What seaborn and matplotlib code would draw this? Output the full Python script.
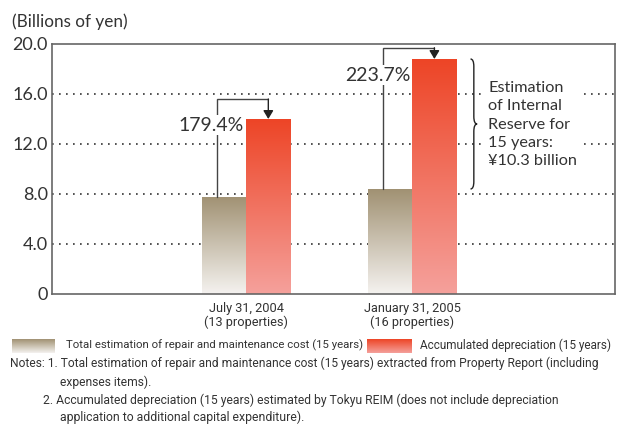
import numpy as np
import pandas as pd
import matplotlib
matplotlib.use("Agg")
import matplotlib.pyplot as plt
from matplotlib.path import Path
from matplotlib.patches import PathPatch
import seaborn as sns

# Dados do gráfico (bilhões de ienes)
datas = ["July 31, 2004\n(13 properties)", "January 31, 2005\n(16 properties)"]
series = ["Total estimation of repair and maintenance cost (15 years)",
          "Accumulated depreciation (15 years)"]
reparo = [7.8, 8.4]
depreciacao = [14.0, 18.8]
percentuais = ["179.4%", "223.7%"]
y_ticks = [0, 4, 8, 12, 16, 20]
y_labels = ["0", "4.0", "8.0", "12.0", "16.0", "20.0"]
nota_reserva = "Estimation\nof Internal\nReserve for\n15 years:\n¥10.3 billion"

df = pd.DataFrame({
    "data": datas * 2,
    "serie": [series[0]] * 2 + [series[1]] * 2,
    "valor": reparo + depreciacao,
})

sns.set_style("white")
plt.rcParams['font.family'] = ['Lato', 'DejaVu Sans']
NARROW = ['Roboto', 'DejaVu Sans']
TXT = "#333333"

fig = plt.figure(figsize=(6.17, 4.28), dpi=100)
W, H = 617, 428
ax = fig.add_axes([52 / W, 1 - 294 / H, (615 - 52) / W, 250 / H])

sns.barplot(data=df, x="data", y="valor", hue="serie", order=datas,
            hue_order=series, width=0.53, gap=0, ax=ax, legend=False,
            saturation=1, errorbar=None)

# Gradientes das barras
grad_tan = [(0.96, 0.95, 0.94), (0.63, 0.57, 0.45)]
grad_red = [(0.96, 0.63, 0.61), (0.93, 0.27, 0.15)]


def gradiente(cores, n=256):
    c0, c1 = np.array(cores[0]), np.array(cores[1])
    t = np.linspace(0, 1, n)[:, None]
    return (c0 + (c1 - c0) * t)[:, None, :]


for cont, cores in zip(ax.containers, [grad_tan, grad_red]):
    for bar in cont:
        x, y0 = bar.get_x(), bar.get_y()
        w, h = bar.get_width(), bar.get_height()
        im = ax.imshow(gradiente(cores), extent=[x, x + w, y0, y0 + h],
                       origin="lower", aspect="auto", zorder=2)
        im.set_clip_path(bar)
        bar.set_facecolor("none")
        bar.set_edgecolor("none")

ax.set_xlim(-1.17, 2.22)
ax.set_ylim(0, 20)

# Grade pontilhada
for v in y_ticks[1:-1]:
    ax.axhline(v, color="#333333", lw=1.2, ls=(0, (1, 3.2)), zorder=1)

ax.set_yticks(y_ticks)
ax.set_yticklabels(y_labels, fontsize=13, color=TXT)
ax.set_xticks(range(len(datas)))
ax.set_xticklabels(datas, fontsize=9.2, color=TXT, family=NARROW, linespacing=1.0)
ax.tick_params(axis="y", length=0, pad=3)
ax.tick_params(axis="x", length=0, pad=6)
ax.set_xlabel("")
ax.set_ylabel("")
for s in ax.spines.values():
    s.set_color("#666666")
    s.set_linewidth(1.2)

# Setas de percentual
meia = 0.265
topo_linha = [15.6, 19.7]
y_texto = [13.5, 17.5]
for i in range(len(datas)):
    xl = i - 0.175
    xr = i + meia / 2
    ax.plot([xl, xl, xr], [reparo[i], topo_linha[i], topo_linha[i]],
            color="#444444", lw=1.0, zorder=3, solid_joinstyle="miter")
    ax.annotate("", xy=(xr, depreciacao[i]), xytext=(xr, topo_linha[i]),
                arrowprops=dict(arrowstyle="-|>,head_length=0.5,head_width=0.3",
                                color="#222222", lw=1.0, shrinkA=0, shrinkB=0),
                zorder=3)
    ax.text(i - 0.21, y_texto[i], percentuais[i], ha="center", va="center",
            fontsize=14, color=TXT, zorder=4,
            bbox=dict(facecolor="white", edgecolor="none", pad=1))

# Chave indicando a reserva interna
xb = 1 + meia + 0.085
wb = 0.04
y0, y1 = reparo[1], depreciacao[1]
ym = (y0 + y1) / 2
r = 0.6
verts = [(xb, y1), (xb + wb / 2, y1), (xb + wb / 2, y1 - r),
         (xb + wb / 2, ym + r),
         (xb + wb / 2, ym), (xb + wb, ym),
         (xb + wb / 2, ym), (xb + wb / 2, ym - r),
         (xb + wb / 2, y0 + r),
         (xb + wb / 2, y0), (xb, y0)]
codes = [Path.MOVETO, Path.CURVE3, Path.CURVE3, Path.LINETO,
         Path.CURVE3, Path.CURVE3, Path.CURVE3, Path.CURVE3,
         Path.LINETO, Path.CURVE3, Path.CURVE3]
ax.add_patch(PathPatch(Path(verts, codes), fill=False, ec="#222222", lw=1.0, zorder=3))
ax.text(1.458, 13.55, nota_reserva, ha="left", va="center", fontsize=11.7,
        color=TXT, linespacing=1.38, zorder=4,
        bbox=dict(facecolor="white", edgecolor="none", pad=2))

# Unidade
unidade = fig.text(12 / W, 1 - 22 / H, "(Billions of yen)", fontsize=11.5,
                   color=TXT, va="center", ha="left")

# Legenda com gradiente
ajustar = [(unidade, 115)]
for (x0, x1), cores, texto, xt, larg in [((12, 55), grad_tan, series[0], 66, 297),
                                          ((367, 412), grad_red, series[1], 420, 194)]:
    sw = fig.add_axes([x0 / W, 1 - 353 / H, (x1 - x0) / W, 14 / H])
    sw.imshow(gradiente(cores), origin="lower", aspect="auto")
    sw.axis("off")
    t = fig.text(xt / W, 1 - 345 / H, texto, fontsize=9, color=TXT,
                 family=NARROW, va="center", ha="left")
    ajustar.append((t, larg))

# Notas
notas = [
    (10, 363, 592, "Notes: 1. Total estimation of repair and maintenance cost (15 years) extracted from Property Report (including"),
    (60, 382, None, "expenses items)."),
    (43, 400, 519, "2. Accumulated depreciation (15 years) estimated by Tokyu REIM (does not include depreciation"),
    (60, 417, 247, "application to additional capital expenditure)."),
]
textos_notas = []
for x, y, larg, t in notas:
    tt = fig.text(x / W, 1 - y / H, t, fontsize=9, color=TXT, family=NARROW,
                  va="center", ha="left")
    textos_notas.append(tt)
    if larg:
        ajustar.append((tt, larg))

# Ajusta o tamanho das fontes à largura medida na referência
fig.canvas.draw()
rend = fig.canvas.get_renderer()
for t, larg in ajustar:
    w = t.get_window_extent(rend).width
    t.set_fontsize(t.get_fontsize() * larg / w)
textos_notas[1].set_fontsize(textos_notas[0].get_fontsize())

plt.savefig("out.png", dpi=100)
